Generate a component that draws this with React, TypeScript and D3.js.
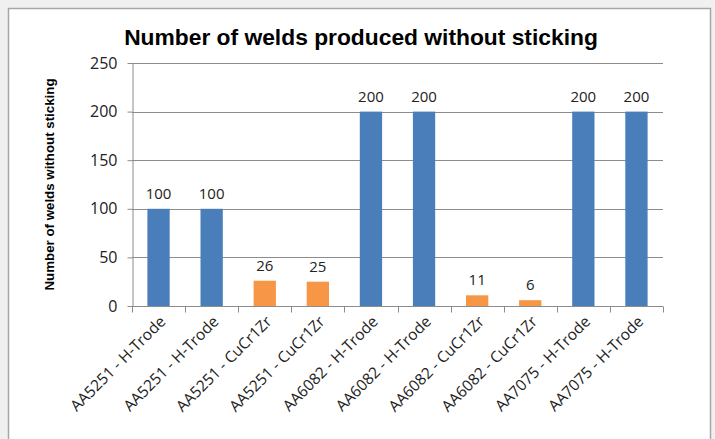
import React, { useRef, useEffect } from 'react';
import * as d3 from 'd3';

const categories = [
  'AA5251 - H-Trode',
  'AA5251 - H-Trode',
  'AA5251 - CuCr1Zr',
  'AA5251 - CuCr1Zr',
  'AA6082 - H-Trode',
  'AA6082 - H-Trode',
  'AA6082 - CuCr1Zr',
  'AA6082 - CuCr1Zr',
  'AA7075 - H-Trode',
  'AA7075 - H-Trode',
];
const welds = [100, 100, 26, 25, 200, 200, 11, 6, 200, 200];
const yTicks = [0, 50, 100, 150, 200, 250];

const BLUE = '#4a7ebb';
const ORANGE = '#f79646';

const App: React.FC = () => {
  const svgRef = useRef<SVGSVGElement>(null);

  useEffect(() => {
    if (!svgRef.current) return;
    const svg = d3.select(svgRef.current);
    svg.selectAll('*').remove();

    const width = 715;
    const height = 439;
    const margin = { top: 63, right: 52, bottom: 133, left: 132 };

    // page and chart frame
    svg.append('rect').attr('width', width).attr('height', height).attr('fill', '#f0f0f0');
    svg.append('rect')
      .attr('x', 8.5).attr('y', 8.5)
      .attr('width', 702).attr('height', 440)
      .attr('fill', '#fff')
      .attr('stroke', '#a6a6a6')
      .attr('stroke-width', 1.5);

    const idx = categories.map((_, i) => String(i));
    const x = d3.scaleBand()
      .domain(idx)
      .range([margin.left, width - margin.right])
      .paddingInner(0.58)
      .paddingOuter(0.29);

    const y = d3.scaleLinear()
      .domain([0, 250])
      .range([height - margin.bottom, margin.top]);

    const step = x.step();
    const x0 = margin.left;
    const x1 = width - margin.right;

    // gridlines
    svg.append('g')
      .selectAll('line')
      .data(yTicks.filter(t => t > 0))
      .join('line')
        .attr('x1', x0).attr('x2', x1)
        .attr('y1', d => Math.round(y(d)) + 0.5)
        .attr('y2', d => Math.round(y(d)) + 0.5)
        .attr('stroke', '#8c8c8c');

    // bars
    svg.append('g')
      .selectAll('rect')
      .data(welds)
      .join('rect')
        .attr('x', (_, i) => x(String(i))!)
        .attr('width', x.bandwidth())
        .attr('y', d => y(d))
        .attr('height', d => y(0) - y(d))
        .attr('fill', (_, i) => categories[i].includes('CuCr1Zr') ? ORANGE : BLUE);

    // data labels
    svg.append('g')
      .selectAll('text')
      .data(welds)
      .join('text')
        .attr('x', (_, i) => x(String(i))! + x.bandwidth() / 2)
        .attr('y', d => y(d) - 10)
        .attr('text-anchor', 'middle')
        .attr('font-family', 'Open Sans, sans-serif')
        .attr('font-size', 15)
        .attr('fill', '#222')
        .text(d => d);

    // y axis
    const yAxis = svg.append('g')
      .attr('transform', `translate(${x0 + 0.5},0)`)
      .call(d3.axisLeft(y).tickValues(yTicks).tickSize(5).tickSizeOuter(0).tickPadding(10));
    yAxis.select('.domain').attr('stroke', '#8c8c8c');
    yAxis.selectAll('.tick line').attr('stroke', '#8c8c8c');
    yAxis.selectAll('.tick text')
      .attr('font-family', 'Open Sans, sans-serif')
      .attr('font-size', 16)
      .attr('fill', '#222');

    // x axis
    const xAxisG = svg.append('g').attr('transform', `translate(0,${Math.round(y(0)) + 0.5})`);
    xAxisG.append('line')
      .attr('x1', x0).attr('x2', x1)
      .attr('stroke', '#8c8c8c');
    xAxisG.selectAll('line.tk')
      .data(d3.range(categories.length + 1))
      .join('line')
        .attr('class', 'tk')
        .attr('x1', d => Math.round(x0 + d * step) + 0.5)
        .attr('x2', d => Math.round(x0 + d * step) + 0.5)
        .attr('y1', 0).attr('y2', 6)
        .attr('stroke', '#8c8c8c');
    xAxisG.selectAll('text')
      .data(categories)
      .join('text')
        .attr('transform', (_, i) => `translate(${x(String(i))! + x.bandwidth() / 2 + 8},${16}) rotate(-45)`)
        .attr('text-anchor', 'end')
        .attr('font-family', 'Open Sans, sans-serif')
        .attr('font-size', 15.5)
        .attr('fill', '#222')
        .text(d => d);

    // title
    svg.append('text')
      .attr('x', 361).attr('y', 45)
      .attr('text-anchor', 'middle')
      .attr('font-family', 'Liberation Sans, sans-serif')
      .attr('font-weight', 'bold')
      .attr('font-size', 22.8)
      .attr('fill', '#000')
      .text('Number of welds produced without sticking');

    // y title
    svg.append('text')
      .attr('transform', `translate(54,${(margin.top + y(0)) / 2}) rotate(-90)`)
      .attr('text-anchor', 'middle')
      .attr('font-family', 'Liberation Sans, sans-serif')
      .attr('font-weight', 'bold')
      .attr('font-size', 13.3)
      .attr('fill', '#000')
      .text('Number of welds without sticking');
  }, []);

  return (
    <div style={{ position: 'fixed', left: 0, top: 0, width: 715, height: 439 }}>
      <svg ref={svgRef} width={715} height={439} style={{ display: 'block' }} />
    </div>
  );
};

export default App;
